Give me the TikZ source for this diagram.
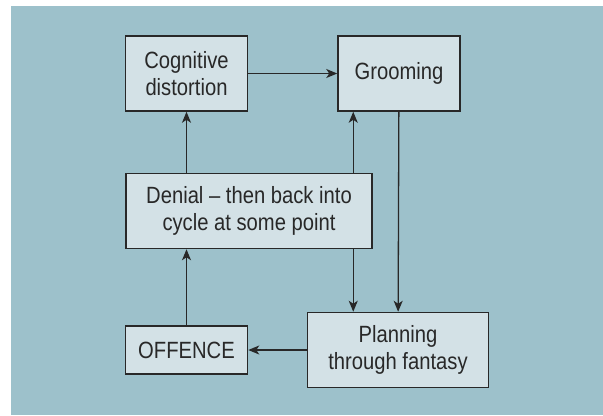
\documentclass[tikz,border=0pt]{standalone}
\usepackage{fontspec}
\setmainfont{Liberation Sans}[FakeStretch=0.86]
\usetikzlibrary{arrows.meta}

\definecolor{panelblue}{RGB}{157,193,203}
\definecolor{boxblue}{RGB}{211,225,230}
\definecolor{inkgray}{RGB}{40,40,40}

\tikzset{
  stage/.style={draw=inkgray, line width=1.5bp, fill=boxblue, inner sep=0pt,
    align=center, text=inkgray, font=\fontsize{23.5bp}{27.5bp}\selectfont},
  flow/.style={draw=inkgray, line width=1.3bp, -{Stealth[length=11bp,width=9bp,inset=3bp]}}
}

\begin{document}
\begin{tikzpicture}[x=1bp, y=-1bp]
    \useasboundingbox (0,0) rectangle (603,415);

    % Draw the background panel
    \fill[panelblue] (11,6) rectangle (603,415);

    \node[stage, minimum width=122bp, minimum height=75bp] (cog) at (186.5,73.5) {Cognitive\\distortion};
    \node[stage, minimum width=122bp, minimum height=75bp] (groom) at (399,73.5) {Grooming};
    \node[stage, minimum width=246bp, minimum height=75bp] (denial) at (249,211) {Denial -- then back into\\cycle at some point};
    \node[stage, minimum width=122bp, minimum height=48bp] (offence) at (186.5,350) {OFFENCE};
    \node[stage, minimum width=181bp, minimum height=75bp] (plan) at (398,350) {Planning\\through fantasy};

    \coordinate (gin) at ([xshift=16bp]groom.south west);

    % the cycle
    \draw[flow] (cog) -- (groom);
    \draw[flow] (groom) -- (plan);
    \draw[flow] (plan) -- (offence);
    \draw[flow] (offence) -- (offence |- denial.south);
    \draw[flow] (denial.north -| cog.south) -- (cog);
    \draw[flow] (denial.north -| gin) -- (gin);
    \draw[flow] (denial.south -| gin) -- (plan.north -| gin);
\end{tikzpicture}
\end{document}
